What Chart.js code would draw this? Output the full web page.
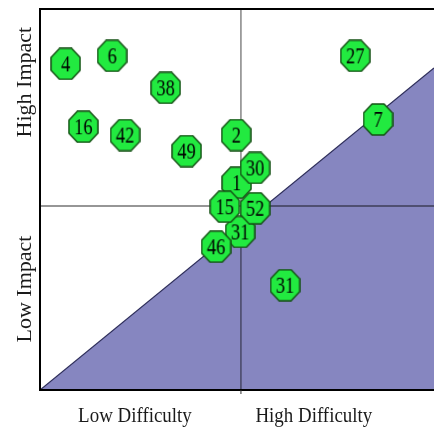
<!DOCTYPE html>
<html>
  <head>
    <meta charset="UTF-8" />
    <title>Impact / Difficulty matrix</title>
    <style>
      html,
      body {
        margin: 0;
        padding: 0;
        width: 100%;
        height: 100%;
        background: #ffffff;
        overflow: hidden;
      }
      #wrap {
        width: 434px;
        height: 430px;
      }
    </style>
    <script src="https://cdn.jsdelivr.net/npm/chart.js"></script>
  </head>
  <body>
    <div id="wrap"><canvas id="chart"></canvas></div>
    <script>
      // item numbers and their position (difficulty, impact) on a 0-100 grid
      // later items are drawn on top of earlier ones
      const ids = ["4", "6", "38", "16", "42", "49", "27", "7", "2", "1", "30", "31", "15", "52", "46", "31"];
      const difficulty = [6.5, 18.3, 31.9, 11.0, 21.6, 37.2, 80.0, 85.8, 49.8, 49.9, 54.6, 50.8, 46.9, 54.6, 44.7, 62.2];
      const impact = [85.6, 87.7, 79.3, 69.1, 66.9, 62.7, 87.7, 71.0, 66.9, 54.4, 58.3, 41.5, 48.1, 47.7, 37.6, 27.5];

      // quadrant dividers and the shaded diagonal
      const xSplit = 51;
      const ySplit = 48.3;
      const diagonalEnd = 84.5;

      const xLabels = ["Low Difficulty", "High Difficulty"];
      const xLabelPos = [24.1, 69.5];
      const yLabels = ["High Impact", "Low Impact"];
      const yLabelPos = [80.8, 26.5];

      const serif = "'Liberation Serif', 'DejaVu Serif', serif";

      // octagon badge with the number inside, used as the point style
      function badge(text) {
        const w = 31, h = 33;
        const c = document.createElement("canvas");
        c.width = w;
        c.height = h;
        const g = c.getContext("2d");
        const cx = w / 2, cy = h / 2;
        const rx = w / 2 - 1, ry = h / 2 - 1;
        const k = 0.4142;
        g.beginPath();
        g.moveTo(cx - rx * k, cy - ry);
        g.lineTo(cx + rx * k, cy - ry);
        g.lineTo(cx + rx, cy - ry * k);
        g.lineTo(cx + rx, cy + ry * k);
        g.lineTo(cx + rx * k, cy + ry);
        g.lineTo(cx - rx * k, cy + ry);
        g.lineTo(cx - rx, cy + ry * k);
        g.lineTo(cx - rx, cy - ry * k);
        g.closePath();
        g.fillStyle = "#22ea40";
        g.fill();
        g.lineWidth = 1.5;
        g.strokeStyle = "#145214";
        g.stroke();
        g.save();
        g.translate(cx, cy + 1);
        g.scale(0.8, 1);
        g.fillStyle = "#000000";
        g.font = "23px " + serif;
        g.textAlign = "center";
        g.textBaseline = "middle";
        g.fillText(text, 0, 0);
        g.restore();
        return c;
      }

      const frame = {
        id: "frame",
        afterDatasetsDraw(chart) {
          const ctx = chart.ctx;
          const a = chart.chartArea;
          const xs = chart.scales.x;
          const ys = chart.scales.y;
          ctx.save();
          ctx.strokeStyle = "#000000";
          ctx.lineWidth = 2;
          ctx.beginPath();
          ctx.moveTo(a.right + 2, a.top);
          ctx.lineTo(a.left, a.top);
          ctx.lineTo(a.left, a.bottom);
          ctx.lineTo(a.right + 2, a.bottom);
          ctx.stroke();
          // small tick under the vertical divider
          const vx = xs.getPixelForValue(xSplit);
          ctx.lineWidth = 1;
          ctx.strokeStyle = "#333333";
          ctx.beginPath();
          ctx.moveTo(vx, a.bottom);
          ctx.lineTo(vx, a.bottom + 4);
          ctx.stroke();

          ctx.fillStyle = "#1a1a1a";
          ctx.textAlign = "center";
          ctx.textBaseline = "middle";
          xLabels.forEach((t, i) => {
            ctx.save();
            ctx.translate(xs.getPixelForValue(xLabelPos[i]), a.bottom + 26);
            ctx.scale(0.86, 1);
            ctx.font = "22px " + serif;
            ctx.fillText(t, 0, 0);
            ctx.restore();
          });
          yLabels.forEach((t, i) => {
            ctx.save();
            ctx.translate(25, ys.getPixelForValue(yLabelPos[i]));
            ctx.rotate(-Math.PI / 2);
            ctx.font = "22px " + serif;
            ctx.fillText(t, 0, 0);
            ctx.restore();
          });
          ctx.restore();
        },
      };

      new Chart(document.getElementById("chart"), {
        type: "scatter",
        data: {
          datasets: [
            {
              label: "items",
              order: 0,
              data: ids.map((_, i) => ({ x: difficulty[i], y: impact[i] })),
              pointStyle: ids.map(badge),
              pointRadius: 16,
              pointHoverRadius: 16,
              clip: false,
            },
            {
              type: "line",
              label: "split-h",
              order: 1,
              data: [
                { x: 0, y: ySplit },
                { x: 101, y: ySplit },
              ],
              borderColor: "rgba(0,0,0,0.55)",
              borderWidth: 1.3,
              pointRadius: 0,
              fill: false,
            },
            {
              type: "line",
              label: "split-v",
              order: 1,
              data: [
                { x: xSplit, y: 0 },
                { x: xSplit, y: 100 },
              ],
              borderColor: "rgba(0,0,0,0.6)",
              borderWidth: 1.2,
              pointRadius: 0,
              fill: false,
            },
            {
              type: "line",
              label: "diagonal",
              order: 2,
              data: [
                { x: 0, y: 0 },
                { x: 100, y: diagonalEnd },
              ],
              borderColor: "#2e2e5a",
              borderWidth: 1.2,
              backgroundColor: "#8686c0",
              pointRadius: 0,
              fill: "origin",
            },
          ],
        },
        options: {
          responsive: true,
          maintainAspectRatio: false,
          animation: false,
          events: [],
          layout: {
            autoPadding: false,
            padding: { left: 40, top: 9, right: 0, bottom: 40 },
          },
          scales: {
            x: { type: "linear", min: 0, max: 100, display: false },
            y: { type: "linear", min: 0, max: 100, display: false },
          },
          plugins: {
            legend: { display: false },
            tooltip: { enabled: false },
          },
        },
        plugins: [frame],
      });
    </script>
  </body>
</html>
